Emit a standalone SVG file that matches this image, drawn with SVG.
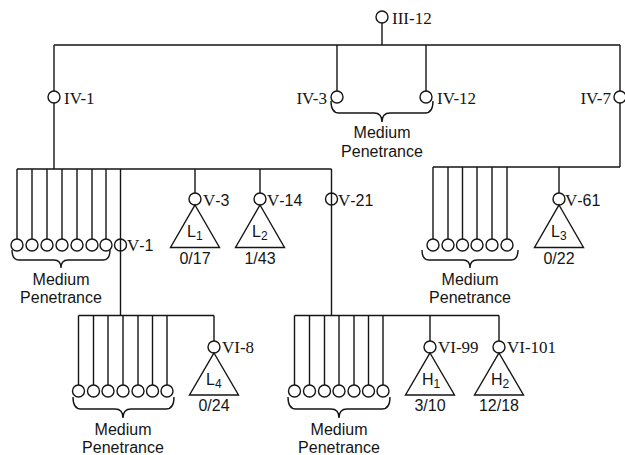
<svg xmlns="http://www.w3.org/2000/svg" width="625" height="455" viewBox="0 0 625 455">
<style>
.ln{stroke:#151515;stroke-width:1.4;fill:none}
.nd{stroke:#151515;stroke-width:1.4;fill:none}
.tri{stroke:#151515;stroke-width:1.4;fill:none;stroke-linejoin:miter}
.br{stroke:#151515;stroke-width:1.4;fill:none}
.ser{font-family:"Liberation Serif","Times New Roman",serif;font-size:17px;fill:#151515}
.san{font-family:"Liberation Sans",Arial,sans-serif;font-size:16px;fill:#151515}
.sub{font-size:12px}
.mid{text-anchor:middle}
</style>
<rect width="625" height="455" fill="#fff"/>
<g id="connectors" class="ln">
<path d="M382 23V45M54 45H620M54 45V91M54 103V169M337 45V91M426 45V91M620 45V91M620 103V167"/>
<path d="M17 169H331.5M17 169V239M32 169V239M47 169V239M62 169V239M77 169V239M92 169V239M106 169V239M120.5 169V315.5M195 169V193M260 169V193M331.5 169V315.5"/>
<path d="M433 167H620M433 167V239M448 167V239M462.5 167V239M477 167V239M492 167V239M507 167V239M559 167V193"/>
<path d="M78.5 315.5H214M78.5 315.5V385M93.5 315.5V385M108 315.5V385M123 315.5V385M138 315.5V385M152.5 315.5V385M167 315.5V385M214 315.5V341"/>
<path d="M294.5 315.5H499M294.5 315.5V385M309.5 315.5V385M324.5 315.5V385M339 315.5V385M354 315.5V385M368.5 315.5V385M383 315.5V385M430 315.5V341M499 315.5V341"/>
</g>
<g id="III-12"><circle class="nd" cx="382" cy="17" r="6"/><text class="ser" x="392" y="24">III-12</text></g>
<g id="IV-1"><circle class="nd" cx="54" cy="97" r="6"/><text class="ser" x="64" y="104">IV-1</text></g>
<g id="IV-3"><circle class="nd" cx="337" cy="97" r="6"/><text class="ser" x="327" y="104" text-anchor="end">IV-3</text></g>
<g id="IV-12"><circle class="nd" cx="426" cy="97" r="6"/><text class="ser" x="437" y="104">IV-12</text></g>
<g id="IV-7"><circle class="nd" cx="620" cy="97" r="6"/><text class="ser" x="611" y="104" text-anchor="end">IV-7</text></g>
<g id="brace-IV"><path class="br" d="M331 101Q331 113 339 113L374 113Q382 113 382 122Q382 113 390 113L425 113Q433 113 433 101"/><text class="san mid" x="382" y="138">Medium</text><text class="san mid" x="382" y="157">Penetrance</text></g>
<g id="V-medium-left" class="nd"><circle cx="17" cy="245" r="6"/><circle cx="32" cy="245" r="6"/><circle cx="47" cy="245" r="6"/><circle cx="62" cy="245" r="6"/><circle cx="77" cy="245" r="6"/><circle cx="92" cy="245" r="6"/><circle cx="106" cy="245" r="6"/></g>
<g id="brace-V-left"><path class="br" d="M12 250Q12 260 19 260L54 260Q61 260 61 268Q61 260 68 260L103 260Q110 260 110 250"/><text class="san mid" x="61" y="285">Medium</text><text class="san mid" x="61" y="303">Penetrance</text></g>
<g id="V-1"><circle class="nd" cx="120.5" cy="245" r="6"/><text class="ser" x="127" y="251">V<tspan class="san">-1</tspan></text></g>
<g id="V-3"><circle class="nd" cx="195" cy="199" r="6"/><text class="ser" x="203" y="205.5">V<tspan class="san">-3</tspan></text><polygon class="tri" points="195,205 219.5,247.5 170.5,247.5"/><text class="san" x="187" y="237">L<tspan class="sub" dy="3">1</tspan></text><text class="san mid" x="195" y="263.5">0/17</text></g>
<g id="V-14"><circle class="nd" cx="260" cy="199" r="6"/><text class="ser" x="267" y="205.5">V<tspan class="san">-14</tspan></text><polygon class="tri" points="260,205 284.5,247.5 235.5,247.5"/><text class="san" x="252" y="237">L<tspan class="sub" dy="3">2</tspan></text><text class="san mid" x="260" y="263.5">1/43</text></g>
<g id="V-21"><circle class="nd" cx="331.5" cy="199" r="6"/><text class="ser" x="338" y="205.5">V<tspan class="san">-21</tspan></text></g>
<g id="V-medium-right" class="nd"><circle cx="433" cy="245" r="6"/><circle cx="448" cy="245" r="6"/><circle cx="462.5" cy="245" r="6"/><circle cx="477" cy="245" r="6"/><circle cx="492" cy="245" r="6"/><circle cx="507" cy="245" r="6"/></g>
<g id="brace-V-right"><path class="br" d="M422 250Q422 260 429 260L463 260Q470 260 470 268Q470 260 477 260L511 260Q518 260 518 250"/><text class="san mid" x="470" y="285">Medium</text><text class="san mid" x="470" y="303">Penetrance</text></g>
<g id="V-61"><circle class="nd" cx="559" cy="199" r="6"/><text class="ser" x="565" y="205.5">V<tspan class="san">-61</tspan></text><polygon class="tri" points="559,205 583.5,247.5 534.5,247.5"/><text class="san" x="551" y="237">L<tspan class="sub" dy="3">3</tspan></text><text class="san mid" x="559" y="263.5">0/22</text></g>
<g id="VI-medium-left" class="nd"><circle cx="78.5" cy="391" r="6"/><circle cx="93.5" cy="391" r="6"/><circle cx="108" cy="391" r="6"/><circle cx="123" cy="391" r="6"/><circle cx="138" cy="391" r="6"/><circle cx="152.5" cy="391" r="6"/><circle cx="167" cy="391" r="6"/></g>
<g id="brace-VI-left"><path class="br" d="M73 397Q73 409 81 409L115 409Q123 409 123 418Q123 409 131 409L166 409Q174 409 174 397"/><text class="san mid" x="123" y="435">Medium</text><text class="san mid" x="123" y="453">Penetrance</text></g>
<g id="VI-8"><circle class="nd" cx="214" cy="347" r="6"/><text class="ser" x="222" y="353">VI-8</text><polygon class="tri" points="214,353 238.5,395 189.5,395"/><text class="san" x="206" y="384.5">L<tspan class="sub" dy="3">4</tspan></text><text class="san mid" x="214" y="410.5">0/24</text></g>
<g id="VI-medium-right" class="nd"><circle cx="294.5" cy="391" r="6"/><circle cx="309.5" cy="391" r="6"/><circle cx="324.5" cy="391" r="6"/><circle cx="339" cy="391" r="6"/><circle cx="354" cy="391" r="6"/><circle cx="368.5" cy="391" r="6"/><circle cx="383" cy="391" r="6"/></g>
<g id="brace-VI-right"><path class="br" d="M288 397Q288 409 296 409L331 409Q339 409 339 418Q339 409 347 409L382 409Q390 409 390 397"/><text class="san mid" x="339" y="435">Medium</text><text class="san mid" x="339" y="453">Penetrance</text></g>
<g id="VI-99"><circle class="nd" cx="430" cy="347" r="6"/><text class="ser" x="438" y="353">VI-99</text><polygon class="tri" points="430,353 454.5,395 405.5,395"/><text class="san" x="422" y="384.5">H<tspan class="sub" dy="3">1</tspan></text><text class="san mid" x="430" y="410.5">3/10</text></g>
<g id="VI-101"><circle class="nd" cx="499" cy="347" r="6"/><text class="ser" x="507" y="353">VI-101</text><polygon class="tri" points="499,353 523.5,395 474.5,395"/><text class="san" x="491" y="384.5">H<tspan class="sub" dy="3">2</tspan></text><text class="san mid" x="499" y="410.5">12/18</text></g>
</svg>
